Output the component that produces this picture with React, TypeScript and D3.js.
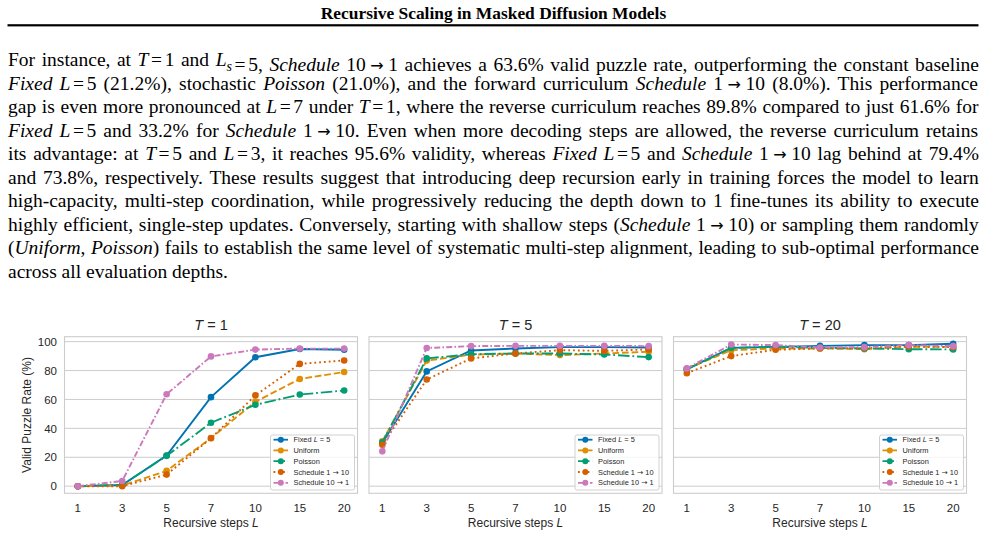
import React, { useEffect, useRef } from 'react';
import * as d3 from 'd3';

// recursion depths on the x axis (categorical, evenly spaced)
const STEPS = ['1', '3', '5', '7', '10', '15', '20'];
const T_VALUES = ['1', '5', '20'];
const Y_TICKS = [0, 20, 40, 60, 80, 100];

const SERIES_KEYS = ['fixed', 'uniform', 'poisson', 'schedUp', 'schedDown'];
const SERIES_COLORS = ['#0173b2', '#de8f05', '#029e73', '#d55e00', '#cc78bc'];
const SERIES_DASHES = ['none', '6.7 2.9', '11.5 2.9 1.8 2.9', '1.8 3', '6 2.2 1.6 2.2'];

// valid puzzle rate (%) at T = 1
const FIXED_T1 = [0, 0.8, 21.2, 61.6, 89.2, 94.9, 94.4];
const UNIFORM_T1 = [0, 0.4, 10.6, 33.3, 58.4, 74.2, 79.0];
const POISSON_T1 = [0, 0.9, 21.0, 43.9, 56.3, 63.4, 66.2];
const SCHED_UP_T1 = [0, 0, 8.0, 33.2, 62.8, 84.6, 87.0];
const SCHED_DOWN_T1 = [0, 3.6, 63.6, 89.8, 94.5, 95.2, 95.2];

// T = 5
const FIXED_T5 = [29.9, 79.4, 93.9, 95.3, 96.2, 96.2, 96.0];
const UNIFORM_T5 = [31.0, 86.9, 91.0, 91.8, 90.7, 91.8, 93.0];
const POISSON_T5 = [30.3, 88.4, 91.3, 91.8, 91.8, 91.1, 89.3];
const SCHED_UP_T5 = [28.7, 73.8, 88.4, 91.8, 94.1, 93.6, 94.6];
const SCHED_DOWN_T5 = [24.1, 95.6, 96.9, 97.1, 97.1, 97.1, 96.9];

// T = 20
const FIXED_T20 = [81.0, 95.7, 96.4, 97.1, 97.6, 97.6, 98.5];
const UNIFORM_T20 = [81.2, 94.1, 95.3, 95.3, 94.8, 96.4, 96.4];
const POISSON_T20 = [80.8, 95.7, 96.4, 95.7, 95.3, 94.8, 94.6];
const SCHED_UP_T20 = [78.2, 90.0, 94.4, 95.3, 95.7, 96.7, 96.2];
const SCHED_DOWN_T20 = [81.5, 98.0, 97.6, 96.0, 96.2, 97.6, 96.9];

const PANELS = [
  [FIXED_T1, UNIFORM_T1, POISSON_T1, SCHED_UP_T1, SCHED_DOWN_T1],
  [FIXED_T5, UNIFORM_T5, POISSON_T5, SCHED_UP_T5, SCHED_DOWN_T5],
  [FIXED_T20, UNIFORM_T20, POISSON_T20, SCHED_UP_T20, SCHED_DOWN_T20],
];

const W = 987;
const H = 535;
const SANS = '"Liberation Sans", Arial, sans-serif';
const SERIF = '"Liberation Serif", "Times New Roman", serif';
const INK = '#262626';
const EDGE = '#cccccc';

const PANEL_LEFT = 64.5;
const PANEL_W = 293;
const PANEL_GAP = 11.5;
const PANEL_TOP = 336.7;
const PANEL_BOTTOM = 493.3;

// shared y range with matplotlib-style 5% margins
const yMax = d3.max(PANELS.flat(2)) as number;
const yPad = yMax * 0.05;
const y = d3.scaleLinear().domain([-yPad, yMax + yPad]).range([PANEL_BOTTOM, PANEL_TOP]);

type Seg = { t: string; i?: boolean; sub?: boolean; eq?: boolean };
const r = (t: string): Seg => ({ t });
const it = (t: string): Seg => ({ t, i: true });
const eq = (t: string): Seg => ({ t, eq: true });

const PARAGRAPH: Seg[][] = [
  [r('For instance, at '), it('T'), eq('1'), r(' and '), it('L'), { t: 's', i: true, sub: true }, eq('5'), r(', '), it('Schedule'), r(' 10 → 1 achieves a 63.6% valid puzzle rate, outperforming the constant baseline')],
  [it('Fixed'), r(' '), it('L'), eq('5'), r(' (21.2%), stochastic '), it('Poisson'), r(' (21.0%), and the forward curriculum '), it('Schedule'), r(' 1 → 10 (8.0%). This performance')],
  [r('gap is even more pronounced at '), it('L'), eq('7'), r(' under '), it('T'), eq('1'), r(', where the reverse curriculum reaches 89.8% compared to just 61.6% for')],
  [it('Fixed'), r(' '), it('L'), eq('5'), r(' and 33.2% for '), it('Schedule'), r(' 1 → 10. Even when more decoding steps are allowed, the reverse curriculum retains')],
  [r('its advantage: at '), it('T'), eq('5'), r(' and '), it('L'), eq('3'), r(', it reaches 95.6% validity, whereas '), it('Fixed'), r(' '), it('L'), eq('5'), r(' and '), it('Schedule'), r(' 1 → 10 lag behind at 79.4%')],
  [r('and 73.8%, respectively. These results suggest that introducing deep recursion early in training forces the model to learn')],
  [r('high-capacity, multi-step coordination, while progressively reducing the depth down to 1 fine-tunes its ability to execute')],
  [r('highly efficient, single-step updates. Conversely, starting with shallow steps ('), it('Schedule'), r(' 1 → 10) or sampling them randomly')],
  [r('('), it('Uniform'), r(', '), it('Poisson'), r(') fails to establish the same level of systematic multi-step alignment, leading to sub-optimal performance')],
  [r('across all evaluation depths.')],
];

const TEXT_LEFT = 8;
const TEXT_RIGHT = 979;

// plain runs: arrows get fixed math spacing so justification leaves them alone
function plainRun(text: string, key: string, italic: boolean) {
  const parts = text.split(' → ');
  const out: React.ReactNode[] = [];
  parts.forEach((p, j) => {
    if (j > 0) {
      out.push(
        <tspan key={`${key}-ar${j}`} dx={4.5} fontFamily='"DejaVu Sans", sans-serif' fontSize={16} fontStyle="normal">
          →
        </tspan>
      );
    }
    out.push(
      <tspan key={`${key}-p${j}`} dx={j > 0 ? 4.5 : 0} fontStyle={italic ? 'italic' : 'normal'}>
        {p}
      </tspan>
    );
  });
  return out;
}

function renderSegs(segs: Seg[]) {
  const out: React.ReactNode[] = [];
  segs.forEach((s, k) => {
    if (s.eq) {
      out.push(<tspan key={k + 'a'} dx={2.6}>=</tspan>);
      out.push(<tspan key={k + 'b'} dx={2.6}>{s.t}</tspan>);
    } else if (s.sub) {
      out.push(<tspan key={k} dy={4.5} fontSize={14} fontStyle="italic">{s.t}</tspan>);
      out.push(<tspan key={k + 'r'} dy={-4.5}>{''}</tspan>);
    } else {
      out.push(...plainRun(s.t, String(k), !!s.i));
    }
  });
  return out;
}

const Paragraph: React.FC = () => {
  const ref = useRef<SVGGElement | null>(null);

  useEffect(() => {
    const lines = d3.select(ref.current).selectAll<SVGTextElement, unknown>('text.line');
    const n = lines.size();
    lines.each(function (_, idx) {
      if (idx === n - 1) return;
      this.style.wordSpacing = '0px';
      const w = this.getBBox().width;
      const spaces = (this.textContent || '').split(' ').length - 1;
      if (spaces > 0) this.style.wordSpacing = `${(TEXT_RIGHT - TEXT_LEFT - w) / spaces}px`;
    });
  }, []);

  return (
    <g ref={ref} fontFamily={SERIF} fontSize={19.5} fill="#000">
      {PARAGRAPH.map((segs, idx) => (
        <text key={idx} className="line" x={TEXT_LEFT} y={66 + idx * 23.55} style={{ whiteSpace: 'pre' }}>
          {renderSegs(segs)}
        </text>
      ))}
    </g>
  );
};

const ARROW_FONT = '"DejaVu Sans", sans-serif';

const LegendLabel: React.FC<{ k: number }> = ({ k }) => {
  if (k === 0)
    return (
      <>
        <tspan>Fixed </tspan>
        <tspan fontStyle="italic">L</tspan>
        <tspan> = 5</tspan>
      </>
    );
  if (k === 3)
    return (
      <>
        <tspan>Schedule 1 </tspan>
        <tspan fontFamily={ARROW_FONT}>→</tspan>
        <tspan> 10</tspan>
      </>
    );
  if (k === 4)
    return (
      <>
        <tspan>Schedule 10 </tspan>
        <tspan fontFamily={ARROW_FONT}>→</tspan>
        <tspan> 1</tspan>
      </>
    );
  return <tspan>{k === 1 ? 'Uniform' : 'Poisson'}</tspan>;
};

const Panel: React.FC<{ idx: number }> = ({ idx }) => {
  const left = PANEL_LEFT + idx * (PANEL_W + PANEL_GAP);
  const right = left + PANEL_W;
  const x = d3.scalePoint<string>().domain(STEPS).range([left, right]).padding(0.3);
  const series = PANELS[idx];

  const line = d3
    .line<number>()
    .x((_, i) => x(STEPS[i]) as number)
    .y((d) => y(d));

  const legW = 84;
  const legH = 55;
  const legX = right - 3 - legW;
  const legY = PANEL_BOTTOM - 3.3 - legH;
  const rowY = [4.7, 15.4, 26.2, 37, 47.8];

  return (
    <g>
      {Y_TICKS.map((t) => (
        <line key={t} x1={left} x2={right} y1={y(t)} y2={y(t)} stroke={EDGE} strokeWidth={1} />
      ))}
      <rect x={left} y={PANEL_TOP} width={PANEL_W} height={PANEL_BOTTOM - PANEL_TOP} fill="none" stroke={EDGE} strokeWidth={1.1} />

      {series.map((vals, s) => (
        <g key={SERIES_KEYS[s]}>
          <path
            d={line(vals) || ''}
            fill="none"
            stroke={SERIES_COLORS[s]}
            strokeWidth={1.9}
            strokeDasharray={SERIES_DASHES[s]}
          />
          {vals.map((v, i) => (
            <circle key={i} cx={x(STEPS[i])} cy={y(v)} r={3.3} fill={SERIES_COLORS[s]} />
          ))}
        </g>
      ))}

      {/* tick labels */}
      <g fontFamily={SANS} fontSize={11.5} fill={INK}>
        {STEPS.map((s) => (
          <text key={s} x={x(s)} y={511.7} textAnchor="middle">{s}</text>
        ))}
        {idx === 0 &&
          Y_TICKS.map((t) => (
            <text key={t} x={left - 7.5} y={y(t)} dy="0.36em" textAnchor="end">{t}</text>
          ))}
      </g>

      <text x={(left + right) / 2} y={527} textAnchor="middle" fontFamily={SANS} fontSize={12} fill={INK}>
        Recursive steps <tspan fontStyle="italic">L</tspan>
      </text>
      <text x={(left + right) / 2} y={330} textAnchor="middle" fontFamily={SANS} fontSize={14.5} fill={INK}>
        <tspan fontStyle="italic">T</tspan> = {T_VALUES[idx]}
      </text>
      {idx === 0 && (
        <text
          transform={`translate(31,${(PANEL_TOP + PANEL_BOTTOM) / 2}) rotate(-90)`}
          textAnchor="middle"
          fontFamily={SANS}
          fontSize={12}
          fill={INK}
        >
          Valid Puzzle Rate (%)
        </text>
      )}

      {/* legend */}
      <g transform={`translate(${legX},${legY})`}>
        <rect width={legW} height={legH} rx={2} fill="#fff" fillOpacity={0.8} stroke={EDGE} strokeWidth={0.9} />
        {SERIES_KEYS.map((key, k) => (
          <g key={key} transform={`translate(0,${rowY[k]})`}>
            <line x1={3} x2={17.5} stroke={SERIES_COLORS[k]} strokeWidth={1.8} strokeDasharray={SERIES_DASHES[k]} />
            <circle cx={10.3} r={3} fill={SERIES_COLORS[k]} />
            <text x={23} dy="0.35em" fontFamily={SANS} fontSize={7.4} fill={INK}>
              <LegendLabel k={k} />
            </text>
          </g>
        ))}
      </g>
    </g>
  );
};

const App: React.FC = () => {
  return (
    <svg
      width={W}
      height={H}
      viewBox={`0 0 ${W} ${H}`}
      style={{ position: 'absolute', left: 0, top: 0, background: '#fff' }}
    >
      <rect width={W} height={H} fill="#fff" />
      <text x={W / 2} y={18.5} textAnchor="middle" fontFamily={SERIF} fontWeight="bold" fontSize={17.4}>
        Recursive Scaling in Masked Diffusion Models
      </text>
      <rect x={7.5} y={24.2} width={971} height={2.2} fill="#000" />
      <Paragraph />
      {T_VALUES.map((_, i) => (
        <Panel key={i} idx={i} />
      ))}
    </svg>
  );
};

export default App;
